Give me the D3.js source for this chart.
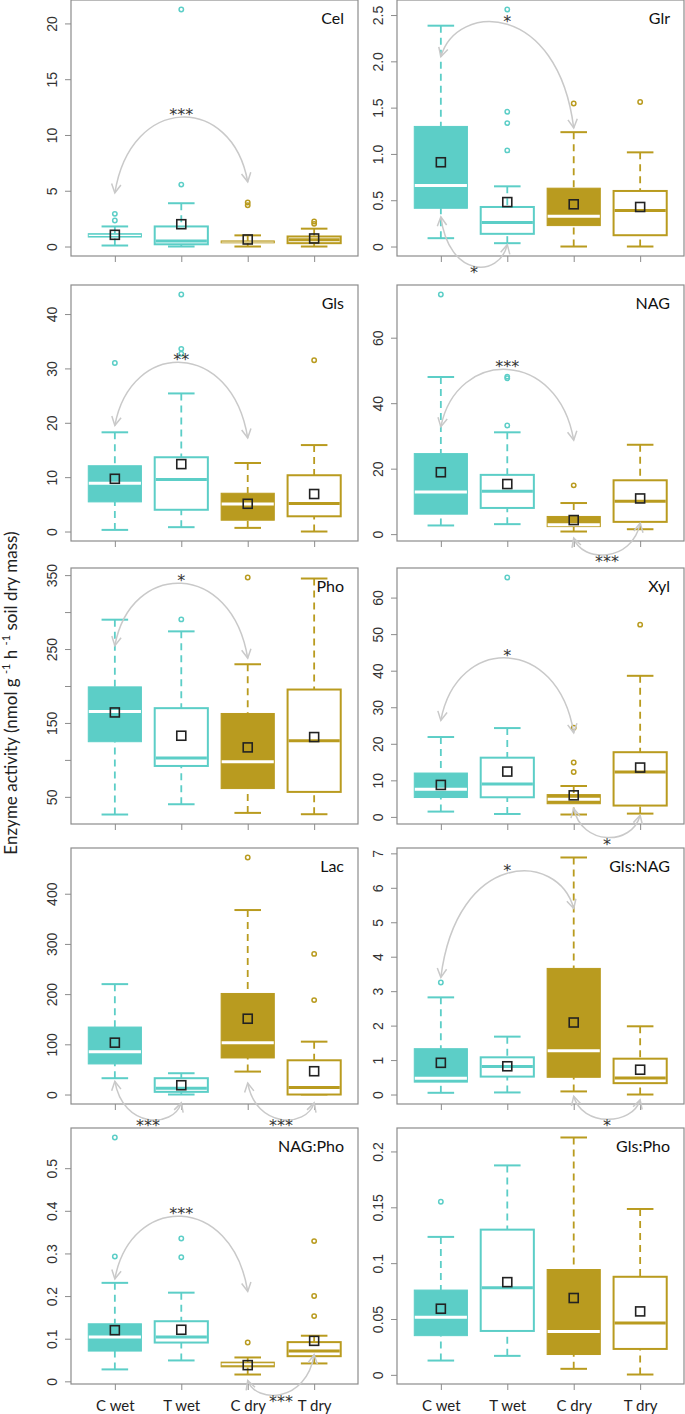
<!DOCTYPE html>
<html>
<head>
<meta charset="utf-8">
<script src="https://cdn.jsdelivr.net/npm/d3@7"></script>
<style>
body { margin: 0; background: #fff; }
svg { display: block; }
</style>
</head>
<body>
<svg id="fig" width="685" height="1414"></svg>
<script>
// groups and panels
var groups = ["C wet", "T wet", "C dry", "T dry"];
var enzymes = ["Cel", "Glr", "Gls", "NAG", "Pho", "Xyl", "Lac", "Gls:NAG", "NAG:Pho", "Gls:Pho"];

// box stats per panel, one value per group
var wLow = [
  [0.09, 0, 0, 0], [0.09, 0.036, 0, 0], [0.3, 0.8, 0.67, 0], [2.65, 3.05, 0.8, 1.5],
  [26.1, 40, 28.3, 26.5], [1.45, 0.8, 0.65, 0.9], [32.5, 0, 45.7, 0],
  [0.05, 0.06, 0.09, 0], [0.028, 0.049, 0.016, 0.042], [0.0128, 0.017, 0.0054, 0.0003]];
var q1 = [
  [0.85, 0.2, 0.33, 0.3], [0.413, 0.137, 0.226, 0.122], [5.45, 4.0, 2.08, 2.8], [6.1, 8.0, 2.3, 3.75],
  [124.6, 91.8, 61.2, 56.7], [5.3, 5.37, 3.6, 3.1], [60.9, 5.3, 72.8, 0],
  [0.36, 0.52, 0.5, 0.33], [0.071, 0.091, 0.034, 0.059], [0.0351, 0.0393, 0.0182, 0.0232]];
var med = [
  [1.0, 0.5, 0.4, 0.6], [0.66, 0.26, 0.327, 0.39], [8.9, 9.55, 5.08, 5.15], [12.9, 13.1, 2.85, 10.05],
  [165.5, 102.5, 97.6, 125.9], [7.55, 9.0, 4.8, 12.3], [85.4, 12.6, 103.3, 13.9],
  [0.47, 0.81, 1.27, 0.48], [0.104, 0.104, 0.04, 0.071], [0.0515, 0.078, 0.0387, 0.0464]];
var q3 = [
  [1.15, 1.8, 0.5, 0.9], [1.297, 0.427, 0.63, 0.6], [12.1, 13.66, 7.04, 10.35], [24.6, 18.1, 5.4, 16.45],
  [198.8, 170, 162.8, 195.2], [12.0, 16.2, 6.1, 17.7], [134.4, 32.5, 201.3, 68.2],
  [1.33, 1.08, 3.66, 1.04], [0.135, 0.141, 0.045, 0.092], [0.0759, 0.130, 0.0943, 0.0878]];
var wHigh = [
  [1.8, 3.88, 1.0, 1.6], [2.385, 0.65, 1.235, 1.017], [18.25, 25.4, 12.6, 15.9], [48.0, 31.1, 9.5, 27.3],
  [289.7, 273.9, 229.4, 345.4], [21.85, 24.3, 8.45, 38.6], [219.9, 42.4, 367.5, 105.3],
  [2.82, 1.68, 6.88, 1.98], [0.231, 0.208, 0.056, 0.107], [0.1235, 0.1875, 0.2125, 0.1485]];
var means = [
  [1.05, 2.0, 0.63, 0.72], [0.91, 0.48, 0.456, 0.427], [9.7, 12.4, 5.1, 6.9], [18.9, 15.3, 4.3, 10.9],
  [164.2, 132.7, 116.9, 130.9], [8.75, 12.4, 5.9, 13.5], [103.3, 18.5, 151, 46.4],
  [0.92, 0.82, 2.09, 0.72], [0.12, 0.121, 0.038, 0.095], [0.0592, 0.083, 0.0688, 0.0568]];
var outliers = [
  [[2.33, 2.93], [5.55, 21.25], [3.7, 3.94], [2.03, 2.24]],
  [[], [1.038, 1.333, 1.455, 2.56], [1.545], [1.56]],
  [[31.0], [32.7, 33.6, 43.6], [], [31.5]],
  [[73.2], [33.2, 47.6, 48.1], [14.9], []],
  [[], [290.1], [346.8], []],
  [[], [65.5], [12.3, 14.9, 24.4], [52.6]],
  [[], [], [472.2], [188.1, 280.1]],
  [[3.25], [], [], []],
  [[0.293, 0.572], [0.291, 0.335], [0.091], [0.153, 0.2, 0.329]],
  [[0.155], [], [], []]];

// y axis ticks
var yTicks = [
  [0, 5, 10, 15, 20], [0, 0.5, 1, 1.5, 2, 2.5], [0, 10, 20, 30, 40], [0, 20, 40, 60],
  [50, 100, 150, 200, 250, 300, 350], [0, 10, 20, 30, 40, 50, 60], [0, 100, 200, 300, 400],
  [0, 1, 2, 3, 4, 5, 6, 7], [0, 0.1, 0.2, 0.3, 0.4, 0.5], [0, 0.05, 0.1, 0.15, 0.2]];
var yTickLabels = [
  ["0", "5", "10", "15", "20"], ["0", "0.5", "1.0", "1.5", "2.0", "2.5"], ["0", "10", "20", "30", "40"], ["0", "20", "40", "60"],
  ["50", "", "150", "", "250", "", "350"], ["0", "10", "20", "30", "40", "50", "60"], ["0", "100", "200", "300", "400"],
  ["0", "1", "2", "3", "4", "5", "6", "7"], ["0", "0.1", "0.2", "0.3", "0.4", "0.5"], ["0", "0.05", "0.1", "0.15", "0.2"]];

// significance arcs: panel, from group, to group, y at start, y at end, y at bend, label
var arcs = [
  [0, 0, 2, 4.8, 5.8, 11.6, "***"],
  [1, 0, 2, 2.05, 1.28, 2.40, "*"],
  [2, 0, 2, 19.5, 17.2, 31.1, "**"],
  [3, 0, 2, 32.8, 28.7, 50.3, "***"],
  [4, 0, 2, 254.6, 237.5, 339, "*"],
  [5, 0, 2, 26.4, 23.0, 43.5, "*"],
  [7, 0, 2, 3.4, 5.4, 6.42, "*"],
  [8, 0, 2, 0.24, 0.211, 0.387, "***"],
  [1, 0, 1, 0.32, 0.02, -0.215, "*"],
  [3, 2, 3, -1.2, 3.35, -6.3, "***"],
  [5, 2, 3, 2.3, 0.45, -5.65, "*"],
  [6, 0, 1, 26.5, -16.6, -49.7, "***"],
  [6, 2, 3, 23, -16.6, -49.7, "***"],
  [7, 2, 3, -0.05, -0.15, -0.72, "*"],
  [8, 2, 3, 0.002, 0.0625, -0.031, "***"]];

var teal = "#5ccec7", gold = "#b99b1f";
var colOf = [teal, teal, gold, gold];
var filled = [true, false, true, false];
var colX = [71, 397], rowY = [0, 285, 568, 848, 1128];
var pw = 287, ph = 256;
var frameCol = "#8c8c8c";

var svg = d3.select("#fig");
var xs = [], ys = [];

enzymes.forEach(function(name, p) {
  var left = colX[p % 2], top = rowY[Math.floor(p / 2)];
  var all = d3.merge([wLow[p], wHigh[p], d3.merge(outliers[p])]);
  var lo = d3.min(all), hi = d3.max(all), pad = (hi - lo) * 0.04;
  var x = d3.scalePoint().domain(groups).range([left, left + pw]).padding(0.66);
  var y = d3.scaleLinear().domain([lo - pad, hi + pad]).range([top + ph, top]);
  xs.push(x); ys.push(y);
  var step = x.step(), bw = step * 0.8, sw = step * 0.4;
  var g = svg.append("g");

  // axes
  var ya = g.append("g").attr("transform", "translate(" + left + ",0)")
    .call(d3.axisLeft(y).tickValues(yTicks[p]).tickSize(6)
      .tickFormat(function(d, i) { return yTickLabels[p][i]; }));
  ya.select(".domain").remove();
  ya.selectAll("line").attr("stroke", frameCol);
  ya.selectAll("text").attr("x", null).attr("dy", null)
    .attr("transform", "translate(-14,0) rotate(-90)")
    .attr("text-anchor", "middle")
    .attr("fill", "#333").style("font", "14px 'Liberation Sans', Arial, sans-serif");

  var xa = g.append("g").attr("transform", "translate(0," + (top + ph) + ")")
    .call(d3.axisBottom(x).tickSize(6).tickFormat(p >= 8 ? null : ""));
  xa.select(".domain").remove();
  xa.selectAll("line").attr("stroke", frameCol);
  xa.selectAll("text").attr("y", 27).attr("dy", null)
    .attr("fill", "#222").style("font", "15px Lato, 'Open Sans', sans-serif");

  g.append("rect").attr("x", left).attr("y", top).attr("width", pw).attr("height", ph)
    .attr("fill", "none").attr("stroke", frameCol).attr("stroke-width", 1.2);

  groups.forEach(function(gr, i) {
    var cx = x(gr), c = colOf[i];
    // whiskers
    g.append("line").attr("x1", cx).attr("x2", cx).attr("y1", y(wHigh[p][i])).attr("y2", y(q3[p][i]))
      .attr("stroke", c).attr("stroke-width", 1.8).attr("stroke-dasharray", "7,5");
    g.append("line").attr("x1", cx).attr("x2", cx).attr("y1", y(wLow[p][i])).attr("y2", y(q1[p][i]))
      .attr("stroke", c).attr("stroke-width", 1.8).attr("stroke-dasharray", "7,5");
    [wLow[p][i], wHigh[p][i]].forEach(function(v) {
      g.append("line").attr("x1", cx - sw / 2).attr("x2", cx + sw / 2).attr("y1", y(v)).attr("y2", y(v))
        .attr("stroke", c).attr("stroke-width", 2);
    });
    // box
    var bh = y(q1[p][i]) - y(q3[p][i]);
    g.append("rect").attr("x", cx - bw / 2).attr("width", bw)
      .attr("y", y(q3[p][i])).attr("height", Math.max(1, bh))
      .attr("fill", filled[i] ? c : "#fff").attr("stroke", c).attr("stroke-width", filled[i] ? 1 : 2);
    g.append("line").attr("x1", cx - bw / 2 + (filled[i] ? 0.5 : 1)).attr("x2", cx + bw / 2 - (filled[i] ? 0.5 : 1))
      .attr("y1", y(med[p][i])).attr("y2", y(med[p][i]))
      .attr("stroke", filled[i] ? "#fff" : c)
      .attr("stroke-width", filled[i] ? Math.max(0.8, Math.min(3, bh * 0.4)) : 3);
    // outliers
    outliers[p][i].forEach(function(v) {
      g.append("circle").attr("cx", cx).attr("cy", y(v)).attr("r", 2.2)
        .attr("fill", "none").attr("stroke", c).attr("stroke-width", 1.5);
    });
    // mean
    g.append("rect").attr("x", cx - 4.5).attr("y", y(means[p][i]) - 4.5).attr("width", 9).attr("height", 9)
      .attr("fill", "none").attr("stroke", "#222").attr("stroke-width", 1.6);
  });

  g.append("text").attr("x", left + pw - 14).attr("y", top + 24).attr("text-anchor", "end")
    .attr("fill", "#111").style("font", "16px Lato, 'Open Sans', sans-serif").text(name);
});

// arcs with arrowheads
function head(px, py, qx, qy) {
  var dx = px - qx, dy = py - qy, L = Math.sqrt(dx * dx + dy * dy);
  dx /= L; dy /= L;
  var a = 28 * Math.PI / 180, len = 10, pts = [];
  [-a, a].forEach(function(t) {
    var rx = dx * Math.cos(t) - dy * Math.sin(t), ry = dx * Math.sin(t) + dy * Math.cos(t);
    pts.push([px - rx * len, py - ry * len]);
  });
  return "M" + pts[0] + "L" + px + "," + py + "L" + pts[1];
}

var ag = svg.append("g");
arcs.forEach(function(a) {
  var x = xs[a[0]], y = ys[a[0]];
  var x0 = x(groups[a[1]]), x3 = x(groups[a[2]]);
  var y0 = y(a[3]), y3 = y(a[4]), yb = y(a[5]);
  var cy = (8 * yb - y0 - y3) / 6, ins = 0.12 * (x3 - x0);
  var x1 = x0 + ins, x2 = x3 - ins;
  ag.append("path")
    .attr("d", "M" + x0 + "," + y0 + "C" + x1 + "," + cy + " " + x2 + "," + cy + " " + x3 + "," + y3)
    .attr("fill", "none").attr("stroke", "#c9c9c9").attr("stroke-width", 1.5);
  ag.append("path").attr("d", head(x0, y0, x1, cy) + head(x3, y3, x2, cy))
    .attr("fill", "none").attr("stroke", "#c9c9c9").attr("stroke-width", 1.5);
  var up = a[5] > a[3];
  ag.append("text").attr("x", (x0 + x3) / 2).attr("y", up ? yb + 3 : yb + 12)
    .attr("text-anchor", "middle").attr("fill", "#333")
    .style("font", "16px 'DejaVu Sans', sans-serif").text(a[6]);
});

// shared y title
var yt = svg.append("text").attr("transform", "translate(17,693) rotate(-90)")
  .attr("text-anchor", "middle").attr("fill", "#222")
  .style("font", "17px Lato, 'Open Sans', sans-serif");
yt.append("tspan").text("Enzyme activity (nmol g ");
yt.append("tspan").attr("dy", -7).style("font-size", "11px").text("-1");
yt.append("tspan").attr("dy", 7).text(" h ");
yt.append("tspan").attr("dy", -7).style("font-size", "11px").text("-1");
yt.append("tspan").attr("dy", 7).text(" soil dry mass)");
</script>
</body>
</html>
